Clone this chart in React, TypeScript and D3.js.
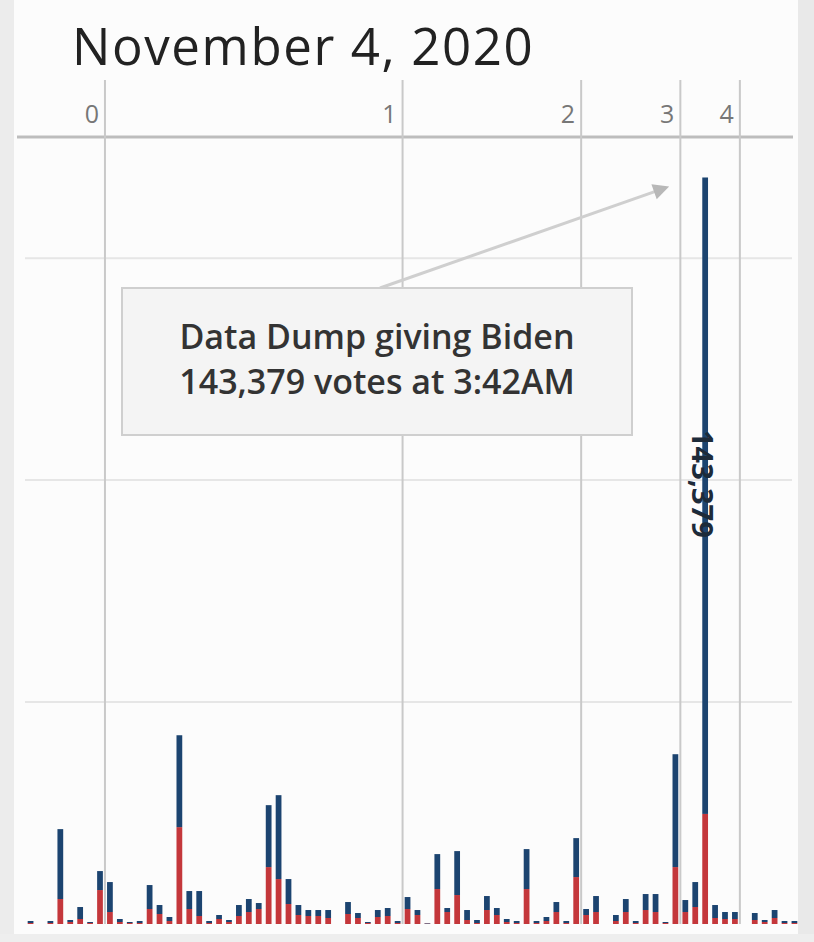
import React from "react";
import * as d3 from "d3";

// ---- data ----
const slotIndex = [0, 2, 3, 4, 5, 6, 7, 8, 9, 10, 11, 12, 13, 14, 15, 16, 17, 18, 19, 20, 21, 22, 23, 24, 25, 26, 27, 28, 29, 30, 32, 33, 34, 35, 36, 37, 38, 39, 40, 41, 42, 43, 44, 45, 46, 47, 48, 49, 50, 51, 52, 53, 54, 55, 56, 57, 59, 60, 61, 62, 63, 64, 65, 66, 67, 68, 69, 70, 71, 73, 74, 75, 76, 77];
const bidenVotes = [450, 450, 15750, 450, 2700, 225, 4275, 6750, 675, 225, 450, 5400, 2025, 900, 20700, 4050, 5625, 450, 900, 450, 2475, 2925, 1350, 13950, 18900, 5625, 2250, 1350, 1350, 1800, 2700, 1125, 225, 1575, 1800, 450, 2700, 1125, 110, 7875, 900, 9900, 2250, 675, 3150, 1575, 675, 450, 9000, 450, 900, 2250, 450, 8775, 1350, 3600, 1350, 2925, 450, 3600, 4050, 225, 25425, 2700, 5625, 143379, 2925, 1575, 1575, 1575, 450, 1800, 450, 450];
const trumpVotes = [225, 225, 5625, 450, 1125, 225, 7650, 2700, 450, 225, 225, 3375, 2250, 675, 21825, 3375, 1800, 225, 1125, 450, 1800, 2700, 3375, 12825, 10125, 4500, 2025, 1800, 1800, 1350, 2250, 1350, 225, 1575, 1800, 225, 3375, 2025, 110, 7875, 2700, 6525, 900, 225, 3150, 2025, 450, 225, 7875, 225, 675, 2700, 225, 10575, 2025, 2700, 675, 2700, 225, 3150, 2700, 225, 12825, 2700, 3825, 24800, 1350, 1125, 1125, 900, 450, 1350, 225, 225];
const hourLabels = ["0", "1", "2", "3", "4"];
const hourStartSlot = [8, 38, 56, 66, 72];
const gridValues = [50000, 100000, 150000];
const slotCount = 78;
const dumpSlot = 68;
const titleText = "November 4, 2020";
const noteLines = ["Data Dump giving Biden", "143,379 votes at 3:42AM"];
const dumpLabel = "143,379";

const W = 814;
const H = 942;
const FONT = "'Open Sans', 'DejaVu Sans', sans-serif";
const BLUE = "#1c4470";
const RED = "#c4373b";

export default function App() {
  const x = d3
    .scaleBand<number>()
    .domain(d3.range(slotCount))
    .range([25.6, 799.4])
    .paddingInner(0.42)
    .paddingOuter(0.21);
  const y = d3.scaleLinear().domain([0, 177300]).range([924, 137]);
  const step = x.step();
  const gap = (step - x.bandwidth()) / 2;

  const dumpIdx = slotIndex.indexOf(dumpSlot);
  const dumpX = (x(dumpSlot) as number) + x.bandwidth() / 2;
  const dumpTop = y(bidenVotes[dumpIdx] + trumpVotes[dumpIdx]);

  const box = { x: 122, y: 288, w: 510, h: 147 };
  const arrowFrom = { x: 380, y: box.y };
  const arrowTo = { x: dumpX - 36, y: dumpTop + 9 };
  const ang = Math.atan2(arrowTo.y - arrowFrom.y, arrowTo.x - arrowFrom.x);
  const ah = 16;
  const aw = 8;
  const head = [
    [arrowTo.x, arrowTo.y],
    [arrowTo.x - ah * Math.cos(ang) + aw * Math.sin(ang), arrowTo.y - ah * Math.sin(ang) - aw * Math.cos(ang)],
    [arrowTo.x - ah * Math.cos(ang) - aw * Math.sin(ang), arrowTo.y - ah * Math.sin(ang) + aw * Math.cos(ang)],
  ];

  return (
    <svg
      width={W}
      height={H}
      viewBox={`0 0 ${W} ${H}`}
      style={{ position: "absolute", left: 0, top: 0, background: "#fff" }}
    >
      <rect x={0} y={0} width={W} height={H} fill="#fcfcfc" />
      <rect x={0} y={0} width={14} height={H} fill="#ececec" />
      <rect x={W - 16} y={0} width={16} height={H} fill="#e9e9e9" />
      <rect x={0} y={H - 8} width={W} height={8} fill="#eeeeee" />

      <text x={72} y={65} fontFamily={FONT} fontSize={51} letterSpacing={1.6} fill="#222">
        {titleText}
      </text>

      {/* gridlines */}
      {gridValues.map((v) => (
        <line key={v} x1={25} x2={792} y1={y(v)} y2={y(v)} stroke="#e6e6e6" strokeWidth={2} />
      ))}

      {/* top axis line */}
      <line x1={17} x2={793} y1={y.range()[1]} y2={y.range()[1]} stroke="#bdbdbd" strokeWidth={3} />

      {/* hour lines and labels */}
      {hourStartSlot.map((s, i) => {
        const lx = (x(s) as number) - gap;
        return (
          <g key={s}>
            <line x1={lx} x2={lx} y1={80} y2={y(0)} stroke="#c9c9c9" strokeWidth={2} />
            <text
              x={lx - 6}
              y={123}
              textAnchor="end"
              fontFamily={FONT}
              fontSize={25}
              fill="#777"
            >
              {hourLabels[i]}
            </text>
          </g>
        );
      })}

      {/* stacked bars */}
      {slotIndex.map((s, i) => {
        const bx = x(s) as number;
        const t = trumpVotes[i];
        const b = bidenVotes[i];
        return (
          <g key={s}>
            <rect x={bx} width={x.bandwidth()} y={y(t)} height={y(0) - y(t)} fill={RED} />
            <rect x={bx} width={x.bandwidth()} y={y(t + b)} height={y(t) - y(t + b)} fill={BLUE} />
          </g>
        );
      })}

      {/* rotated value label */}
      <text
        transform={`translate(${dumpX - 2},${430}) rotate(90)`}
        textAnchor="start"
        dominantBaseline="central"
        fontFamily={FONT}
        fontWeight={700}
        fontSize={29}
        fill="#1d2b3a"
      >
        {dumpLabel}
      </text>

      {/* annotation */}
      <line
        x1={arrowFrom.x}
        y1={arrowFrom.y}
        x2={arrowTo.x - 10 * Math.cos(ang)}
        y2={arrowTo.y - 10 * Math.sin(ang)}
        stroke="#cfcfcf"
        strokeWidth={3}
      />
      <polygon points={head.map((p) => p.join(",")).join(" ")} fill="#b8b8b8" />
      <rect
        x={box.x}
        y={box.y}
        width={box.w}
        height={box.h}
        fill="#f4f4f4"
        stroke="#cfcfcf"
        strokeWidth={2}
      />
      {noteLines.map((l, i) => (
        <text
          key={i}
          x={box.x + box.w / 2}
          y={349 + i * 45}
          textAnchor="middle"
          fontFamily={FONT}
          fontWeight={600}
          fontSize={34}
          fill="#333"
        >
          {l}
        </text>
      ))}
    </svg>
  );
}
